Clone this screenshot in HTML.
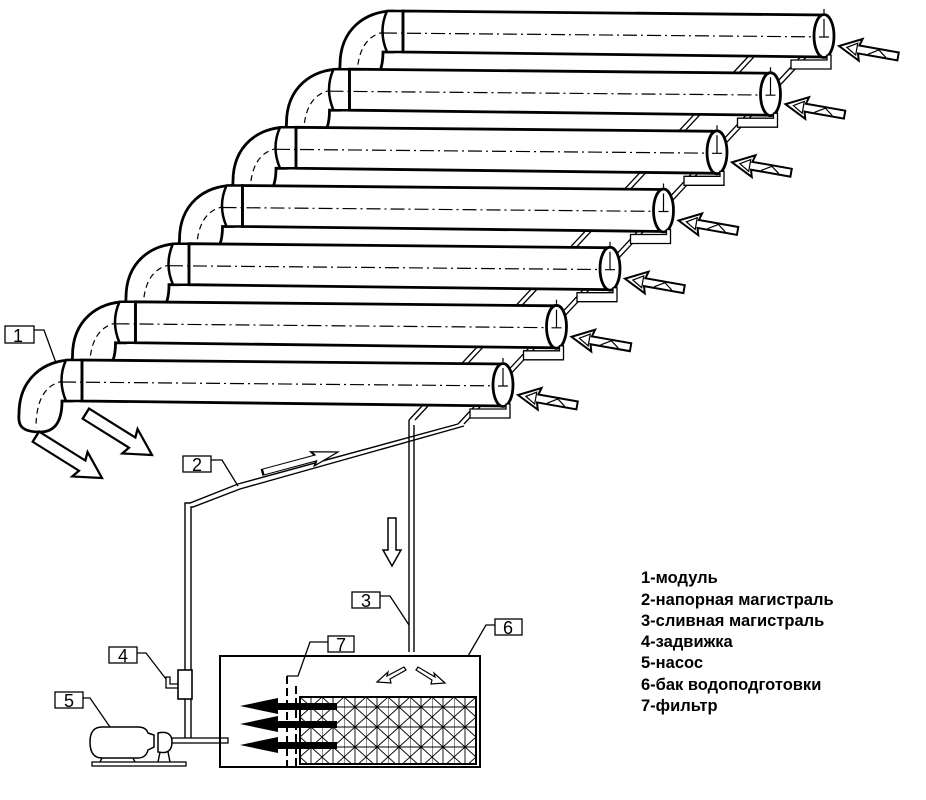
<!DOCTYPE html>
<html><head><meta charset="utf-8"><style>
html,body{margin:0;padding:0;background:#fff}
svg{display:block}
text{font-family:"Liberation Sans",sans-serif}
</style></head><body>
<svg width="926" height="800" viewBox="0 0 926 800" xmlns="http://www.w3.org/2000/svg">
<defs>
<pattern id="mesh" width="22" height="20" patternUnits="userSpaceOnUse" x="300" y="697">
<path d="M0,0 L11,10 L22,0 M0,20 L11,10 L22,20 M11,0 L11,20 M0,10 L22,10 M0,0 L0,20" stroke="#000" stroke-width="0.9" fill="none"/>
</pattern>
<g id="arr"><polygon points="0,0 -22,-11 -20,-4 -60,-4 -60,4 -20,4 -22,11" fill="#fff" stroke="#000" stroke-width="2"/><path d="M-8,0 L-18,-6 L-18,6 Z M-30,-3 L-40,3 L-48,-3" fill="none" stroke="#000" stroke-width="1.2"/></g>
<g id="harr"><polygon points="0,0 -20,-12 -18,-5 -60,-5 -60,5 -18,5 -20,12" fill="#fff" stroke="#000" stroke-width="1.8"/></g>
<g id="tube">
 <path d="M72,360 C45,360 19,378 19,414 C18,424 20,432 40,432 C56,432 62,420 62,401 L72,401 Z" fill="#fff" stroke="#000" stroke-width="2.8"/>
 <path d="M64,381 C45,384 36,400 36,428" fill="none" stroke="#000" stroke-width="1.2" stroke-dasharray="6 4"/>
 <path d="M82,360 L66,360 Q57,380 66,401 L82,401 Z" fill="#fff" stroke="#000" stroke-width="2.5"/>
 <path d="M82,360 L503,364 L503,406 L82,401 Z" fill="#fff" stroke="#000" stroke-width="2.8"/>
 <line x1="82" y1="360" x2="82" y2="401" stroke="#000" stroke-width="2.5"/>
 <line x1="62" y1="382" x2="512" y2="386" stroke="#000" stroke-width="1.2" stroke-dasharray="14 4 2 4"/>
 <ellipse cx="503" cy="385" rx="10" ry="21.5" fill="#fff" stroke="#000" stroke-width="2.8"/>
 <path d="M503,358 L503,362 M503,368 L503,386 M498,386 L508,386" stroke="#000" stroke-width="1.2"/>
 <path d="M470,409 L506,409 L506,404 L510,404 L510,418 L470,418 Z" fill="#fff" stroke="#000" stroke-width="1.3"/>
 <use href="#arr" transform="translate(518,395) rotate(190)"/>
</g>
</defs>

<g stroke="#000" stroke-width="1.3" fill="none">
<path d="M760,44 L409,420 M766,44 L415,420"/>
<path d="M805,52 L458,424 M811,52 L464,424"/>
</g>
<path d="M409,420 L409,652 M414,425 L414,652" stroke="#000" stroke-width="1.4" fill="none"/>
<path d="M458,424 L238,484 L190,503 L185,503 L185,740 M464,426 L240,489 L193,507 L191,507 L191,672 M191,690 L191,740" stroke="#000" stroke-width="1.4" fill="none"/>

<use href="#tube" transform="translate(321,-349)"/>
<use href="#tube" transform="translate(267.5,-290.8)"/>
<use href="#tube" transform="translate(214,-232.7)"/>
<use href="#tube" transform="translate(160.5,-174.5)"/>
<use href="#tube" transform="translate(107,-116.3)"/>
<use href="#tube" transform="translate(53.5,-58.2)"/>
<use href="#tube"/>

<use href="#harr" transform="translate(102,478) rotate(32) scale(1.3,1.2)"/>
<use href="#harr" transform="translate(152,455) rotate(32) scale(1.3,1.2)"/>
<use href="#harr" transform="translate(338,452) rotate(-15) scale(1.3,0.6)"/>
<polygon points="388,518 396,518 396,550 401,550 392,566 383,550 388,550" fill="#fff" stroke="#000" stroke-width="1.5"/>

<g font-size="18" stroke-width="1.3">
<rect x="5" y="326" width="29" height="17" fill="#fff" stroke="#000"/><text x="13" y="342">1</text>
<path d="M34,330 L44,330 L56,363" stroke="#000" fill="none"/>
<rect x="183" y="456" width="28" height="16" fill="#fff" stroke="#000"/><text x="192" y="471">2</text>
<path d="M211,460 L222,460 L238,486" stroke="#000" fill="none"/>
<rect x="352" y="592" width="28" height="16" fill="#fff" stroke="#000"/><text x="361" y="607">3</text>
<path d="M380,596 L390,596 L409,625" stroke="#000" fill="none"/>
<rect x="109" y="647" width="28" height="16" fill="#fff" stroke="#000"/><text x="118" y="662">4</text>
<path d="M137,653 L146,653 L166,679" stroke="#000" fill="none"/>
<rect x="55" y="692" width="28" height="16" fill="#fff" stroke="#000"/><text x="64" y="707">5</text>
<path d="M83,698 L90,698 L110,727" stroke="#000" fill="none"/>
<rect x="495" y="619" width="27" height="16" fill="#fff" stroke="#000"/><text x="503" y="634">6</text>
<path d="M495,625 L486,625 L468,656" stroke="#000" fill="none"/>
<rect x="328" y="636" width="26" height="16" fill="#fff" stroke="#000"/><text x="336" y="651">7</text>
<path d="M328,642 L310,642 L298,676 L287,676" stroke="#000" fill="none"/>
</g>

<rect x="178" y="670" width="14" height="29" fill="#fff" stroke="#000" stroke-width="1.6"/>
<path d="M178,688 L166,688 L166,677 L170,677 L170,684 L178,684" fill="none" stroke="#000" stroke-width="1.3"/>

<path d="M102,727 L138,727 Q146,727 148,733 L154,735 L154,747 L148,750 Q146,758 138,758 L102,758 Q90,758 90,742 Q90,727 102,727 Z" fill="#fff" stroke="#000" stroke-width="1.5"/>
<path d="M158,733 Q172,730 172,742 Q172,755 158,752 Z" fill="#fff" stroke="#000" stroke-width="1.5"/>
<path d="M102,758 L100,762 M133,758 L135,762 M160,752 L158,762 M168,752 L170,762" stroke="#000" stroke-width="1.4"/>
<rect x="92" y="762" width="94" height="4" fill="#fff" stroke="#000" stroke-width="1.3"/>
<rect x="172" y="738" width="56" height="5" fill="#fff" stroke="#000" stroke-width="1.3"/>

<rect x="220" y="656" width="260" height="111" fill="none" stroke="#000" stroke-width="2"/>
<rect x="300" y="697" width="176" height="67" fill="url(#mesh)" stroke="#000" stroke-width="2"/>
<path d="M287,676 L287,768 M296,686 L296,768" stroke="#000" stroke-width="2" stroke-dasharray="8 4"/>
<g fill="#000">
<polygon points="240,706 278,698 278,703 337,703 337,710 278,710 278,714"/>
<polygon points="240,724 278,716 278,721 337,721 337,728 278,728 278,732"/>
<polygon points="240,745 278,737 278,742 337,742 337,749 278,749 278,753"/>
</g>
<polygon points="377,682 388,672 387,676 404,667 406,670 390,679 391,683" fill="#fff" stroke="#000" stroke-width="1.2"/>
<polygon points="445,683 434,673 435,677 418,667 416,670 432,680 431,684" fill="#fff" stroke="#000" stroke-width="1.2"/>

<g font-size="16.5" font-weight="bold" fill="#000">
<text x="641" y="583">1-модуль</text>
<text x="641" y="605">2-напорная магистраль</text>
<text x="641" y="626">3-сливная магистраль</text>
<text x="641" y="647">4-задвижка</text>
<text x="641" y="668">5-насос</text>
<text x="641" y="690">6-бак водоподготовки</text>
<text x="641" y="711">7-фильтр</text>
</g>
</svg>
</body></html>
